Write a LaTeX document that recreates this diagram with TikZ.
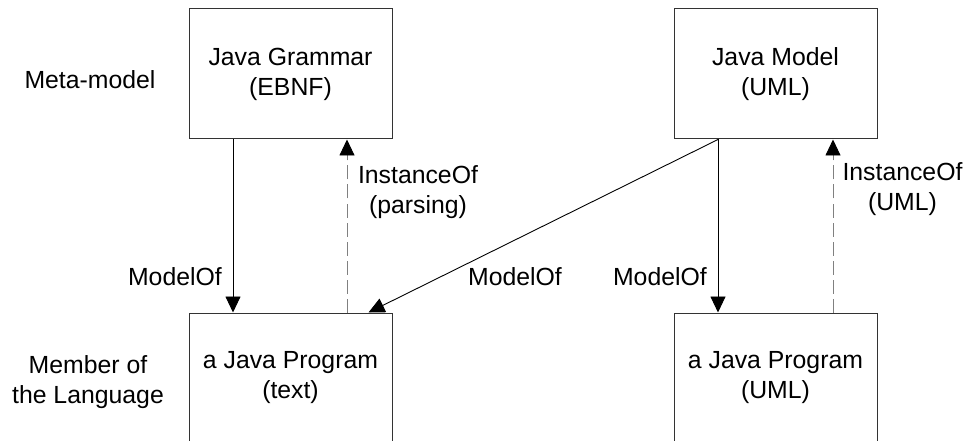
\documentclass[tikz,border=0pt]{standalone}
\usepackage{fontspec}
\setmainfont{Liberation Sans}
\usetikzlibrary{arrows.meta}
\begin{document}
\begin{tikzpicture}[x=1pt,y=-1pt,
  font=\fontsize{24.8}{30}\selectfont,
  box/.style={draw=black!80, line width=1pt, minimum width=203pt, minimum height=130pt, align=center, inner sep=0pt},
  lbl/.style={align=center, inner sep=0pt},
  model/.style={line width=0.9pt, -{Triangle[length=16pt,width=15pt]}},
  inst/.style={line width=0.9pt, draw=black!50, dash pattern=on 14pt off 5pt, -{Triangle[length=16pt,width=15pt,color=black]}}
]
\clip (0,0) rectangle (967,441);
\fill[white] (0,0) rectangle (967,441);

% meta-level and instance-level boxes
\node[box] (grammar) at (290.5,74) {Java Grammar\\(EBNF)};
\node[box] (jmodel)  at (775.5,74) {Java Model\\(UML)};
\node[box] (ptext)   at (290.5,378) {a Java Program\\(text)};
\node[box] (puml)    at (775.5,378) {a Java Program\\(UML)};

% row captions
\node[lbl] (meta) at (90,80) {Meta-model};
\node[lbl] (member) at (88,382) {Member of\\the Language};

% ModelOf relations
\draw[model] ([xshift=-57.5pt]grammar.south) -- ([xshift=-57.5pt]ptext.north);
\draw[model] ([xshift=-57.5pt]jmodel.south) -- ([xshift=-57.5pt]puml.north);
\draw[model] ([xshift=-57.5pt]jmodel.south) -- ([xshift=78pt]ptext.north);

% InstanceOf relations
\draw[inst] ([xshift=56.5pt]ptext.north) -- ([xshift=56.5pt]grammar.south);
\draw[inst] ([xshift=57.5pt]puml.north) -- ([xshift=57.5pt]jmodel.south);

% relation labels
\node[lbl, anchor=east] (m1) at (222,277) {ModelOf};
\node[lbl] (m2) at (515,277) {ModelOf};
\node[lbl, anchor=east] (m3) at (707,277) {ModelOf};
\node[lbl] (i1) at (418,192) {InstanceOf\\(parsing)};
\node[lbl] (i2) at (902.5,189) {InstanceOf\\(UML)};
\end{tikzpicture}
\end{document}
